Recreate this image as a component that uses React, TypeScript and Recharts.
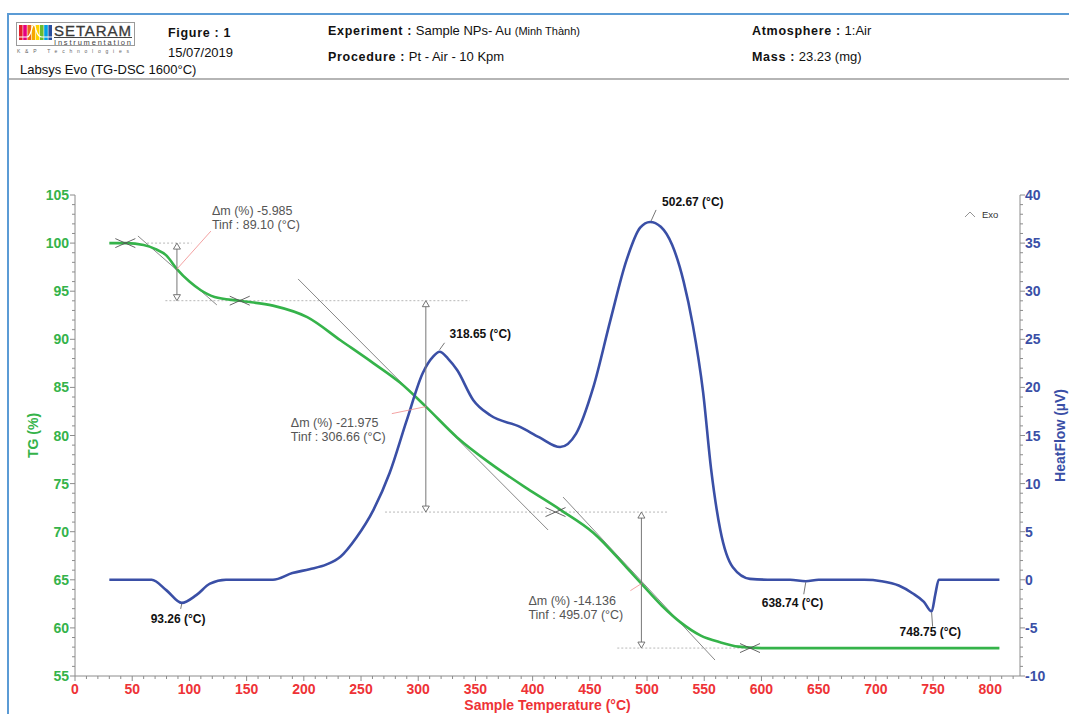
import React from "react";
import {
  ComposedChart,
  Line,
  XAxis,
  YAxis,
  ReferenceLine,
  ReferenceDot,
  Label,
} from "recharts";

const FONT = '"Liberation Sans", Arial, sans-serif';
const GREEN = "#35b34a";
const BLUE = "#3a4fa6";
const RED = "#ee3236";
const AXIS = "#8c8c8c";
const NOTE = "#555";

// TG (%) vs sample temperature (°C)
const tgTemp = [
  30, 45, 60, 70, 80, 89.1, 100, 110, 122, 144, 173, 203, 232, 261, 284, 306.66,
  334, 363, 395, 424, 453, 482, 495.07, 513, 529, 547, 564, 580, 600, 700, 808,
];
const tgValue = [
  100.0, 100.0, 99.8, 99.4, 98.7, 97.3, 96.0, 95.1, 94.4, 94.0, 93.5, 92.3, 89.9,
  87.5, 85.5, 83.0, 79.8, 77.1, 74.5, 72.3, 69.9, 66.3, 64.6, 62.3, 60.6, 59.2,
  58.5, 58.05, 57.9, 57.9, 57.9,
];

// HeatFlow (µV) vs sample temperature (°C)
const hfTemp = [
  30, 50, 67, 80, 93.26, 106, 118, 132, 150, 173, 190, 205, 220, 232, 246, 261,
  275, 290, 304, 313, 318.65, 326, 334, 348, 363, 389, 406, 424, 438, 453, 468,
  482, 494, 502.67, 512, 522, 532, 540, 549, 556, 564, 575, 590, 610, 625, 638.74,
  650, 670, 690, 705, 720, 732, 742, 748.75, 752, 755, 780, 808,
];
const hfValue = [
  0, 0, 0, -1.1, -2.4, -1.6, -0.4, 0, 0, 0, 0.7, 1.1, 1.6, 2.4, 4.4, 7.3, 11.1,
  16.6, 21.5, 23.2, 23.7, 23.0, 21.8, 18.7, 17.1, 15.9, 14.8, 13.8, 15.2, 20.0,
  27.0, 33.2, 36.6, 37.2, 36.7, 34.8, 31.0, 26.5, 19.5, 11.5, 5.2, 1.3, 0.1, 0, 0,
  -0.15, 0, 0, 0, -0.15, -0.6, -1.4, -2.3, -3.3, -1.5, 0, 0, 0,
];

// axis ticks
const xMajor = [0, 50, 100, 150, 200, 250, 300, 350, 400, 450, 500, 550, 600, 650, 700, 750, 800];
const tgMajor = [55, 60, 65, 70, 75, 80, 85, 90, 95, 100, 105];
const hfMajor = [-10, -5, 0, 5, 10, 15, 20, 25, 30, 35, 40];

// mass-loss steps
const tgStart = 100.0;
const stepDm = [-5.985, -21.975, -14.136];
const stepTinf = [89.1, 306.66, 495.07];
const stepTgAtTinf = [97.3, 83.0, 64.6];
// onset / endset crosses
const crossTemp = [44, 144, 420, 590];
// dotted step levels
const levelFrom = [63, 79, 271, 474];
const levelTo = [102, 345, 518, 600];
// tangents at the inflection points
const tanX1 = [55, 195, 426.6];
const tanY1 = [100.74, 96.27, 73.6];
const tanX2 = [124, 413.5, 559.4];
const tanY2 = [93.57, 70.18, 56.66];

// DSC peaks
const peakTemp = [93.26, 318.65, 502.67, 638.74, 748.75];
const peakHf = [-2.4, 23.7, 37.2, -0.15, -3.3];

const levels = stepDm.reduce<number[]>(
  (acc, dm) => [...acc, acc[acc.length - 1] + dm],
  [tgStart]
);

const tgData = tgTemp.map((t, i) => ({ t, tg: tgValue[i] }));
const hfData = hfTemp.map((t, i) => ({ t, hf: hfValue[i] }));

const range = (from: number, to: number, step: number) => {
  const out: number[] = [];
  for (let v = from; v <= to + 1e-9; v += step) out.push(Math.round(v * 100) / 100);
  return out;
};
const xTicks = range(0, 820, 10);
const tgTicks = range(55, 105, 1);
const hfTicks = range(-10, 40, 1);

const XTick = (props: any) => {
  const { x, y, payload } = props;
  const major = xMajor.includes(payload.value);
  return (
    <g>
      <line x1={x} y1={y} x2={x} y2={y + (major ? 5 : 3)} stroke={AXIS} />
      {major && (
        <text x={x} y={y + 18} textAnchor="middle" fill={RED} fontSize={14} fontWeight="bold" fontFamily={FONT}>
          {payload.value}
        </text>
      )}
    </g>
  );
};

const TgTick = (props: any) => {
  const { x, y, payload } = props;
  const major = tgMajor.includes(payload.value);
  return (
    <g>
      <line x1={x} y1={y} x2={x - (major ? 5 : 3)} y2={y} stroke={AXIS} />
      {major && (
        <text x={x - 6} y={y + 5} textAnchor="end" fill={GREEN} fontSize={14} fontWeight="bold" fontFamily={FONT}>
          {payload.value}
        </text>
      )}
    </g>
  );
};

const HfTick = (props: any) => {
  const { x, y, payload } = props;
  const major = hfMajor.includes(payload.value);
  return (
    <g>
      <line x1={x} y1={y} x2={x + (major ? 5 : 3)} y2={y} stroke={AXIS} />
      {major && (
        <text x={x + 5} y={y + 5} textAnchor="start" fill={BLUE} fontSize={14} fontWeight="bold" fontFamily={FONT}>
          {payload.value}
        </text>
      )}
    </g>
  );
};

// vertical Δm arrow with open heads at both ends
const DoubleArrow = (props: any) => {
  const { x1, y1, x2, y2 } = props;
  const top = Math.min(y1, y2);
  const bot = Math.max(y1, y2);
  const x = x1 ?? x2;
  return (
    <g>
      <line x1={x} y1={top + 6} x2={x} y2={bot - 6} stroke="#777" strokeWidth={1} />
      <path d={`M${x},${top} L${x - 3.5},${top + 6} L${x + 3.5},${top + 6} Z`} fill="#fff" stroke="#666" strokeWidth={0.9} />
      <path d={`M${x},${bot} L${x - 3.5},${bot - 6} L${x + 3.5},${bot - 6} Z`} fill="#fff" stroke="#666" strokeWidth={0.9} />
    </g>
  );
};

const Cross = (props: any) => {
  const { cx, cy } = props;
  return (
    <g stroke="#555" strokeWidth={0.9}>
      <line x1={cx - 10} y1={cy - 4.5} x2={cx + 10} y2={cy + 4.5} />
      <line x1={cx - 10} y1={cy + 4.5} x2={cx + 10} y2={cy - 4.5} />
    </g>
  );
};

// offsets of the step notes from their inflection point
const stepNoteLayout = [
  { lx: 34, ly: -38, tx: 35, ty: -59 },
  { lx: -34, ly: 7, tx: -135, ty: 16 },
  { lx: -11, ly: 7, tx: -113, ty: 17 },
];

const makeStepNote = (i: number) => (props: any) => {
  const { cx, cy } = props;
  const l = stepNoteLayout[i];
  return (
    <g fontFamily={FONT} fontSize={12.5} fill={NOTE}>
      <line x1={cx} y1={cy} x2={cx + l.lx} y2={cy + l.ly} stroke="#f08a8a" strokeWidth={0.8} />
      <text x={cx + l.tx} y={cy + l.ty + 4.5}>{`Δm (%) ${stepDm[i]}`}</text>
      <text x={cx + l.tx} y={cy + l.ty + 18.5}>{`Tinf : ${stepTinf[i].toFixed(2)} (°C)`}</text>
    </g>
  );
};

// leader and label offsets for each DSC peak
const peakNoteLayout = [
  { ax: 0, ay: 1, bx: -1, by: 6, tx: -31, ty: 16 },
  { ax: 0, ay: -2, bx: 5, by: -9, tx: 10, ty: -18 },
  { ax: 1, ay: -1, bx: 6, by: -12, tx: 12, ty: -20 },
  { ax: 0, ay: 1, bx: -2, by: 13, tx: -44, ty: 21 },
  { ax: 0, ay: 1, bx: 1, by: 15, tx: -32, ty: 20 },
];

const makePeakNote = (i: number) => (props: any) => {
  const { cx, cy } = props;
  const l = peakNoteLayout[i];
  return (
    <g>
      <line x1={cx + l.ax} y1={cy + l.ay} x2={cx + l.bx} y2={cy + l.by} stroke="#666" strokeWidth={0.9} />
      <text x={cx + l.tx} y={cy + l.ty + 4.5} fontFamily={FONT} fontSize={12} fontWeight="bold" fill="#111">
        {`${peakTemp[i].toFixed(2)} (°C)`}
      </text>
    </g>
  );
};

const Logo = () => {
  const bars = ["#e5202a", "#e6007e", "#ec6a1c", "#f5a800", "#ffd400", "#6cbb2d", "#00a0e3", "#2b4f9e"];
  return (
    <svg width={120} height={34} style={{ position: "absolute", left: 16, top: 22 }}>
      <rect x={0.5} y={0.5} width={118} height={23} fill="#fff" stroke="#9a9a9a" />
      {bars.map((c, i) => (
        <rect key={i} x={3 + i * 4.2} y={3} width={3.6} height={15} fill={c} />
      ))}
      <path d="M3,15 L11,15 Q14,15 16,6 Q18,-1 20,8 Q22,15 26,15 L37,15" fill="none" stroke="#fff" strokeWidth={1.2} />
      <text x={38} y={13.5} fontFamily={FONT} fontSize={15} fill="#3a3a3a" stroke="#3a3a3a" strokeWidth={0.3} textLength={77}>
        SETARAM
      </text>
      <line x1={38} y1={15.5} x2={116} y2={15.5} stroke="#444" strokeWidth={1} />
      <text x={38} y={22.5} fontFamily={FONT} fontSize={7.5} fill="#444" textLength={77}>
        Instrumentation
      </text>
      <text x={1} y={31} fontFamily={FONT} fontSize={5} fill="#666" textLength={112}>
        K&amp;P Technologies
      </text>
    </svg>
  );
};

const Header = () => {
  const lbl: React.CSSProperties = { fontWeight: "bold", letterSpacing: 0.7, fontSize: 12.5 };
  const txt: React.CSSProperties = { position: "absolute", fontSize: 13, color: "#111", whiteSpace: "nowrap", lineHeight: "16px" };
  return (
    <>
      <div style={{ position: "absolute", left: 7, top: 13, width: 2, height: 701, background: "#5b9bd5" }} />
      <div style={{ position: "absolute", left: 7, top: 13, width: 1062, height: 2, background: "#5b9bd5" }} />
      <div style={{ position: "absolute", left: 9, top: 78, width: 1060, height: 2, background: "#b5b5b5" }} />
      <Logo />
      <div style={{ ...txt, left: 168, top: 25 }}>
        <span style={lbl}>Figure : 1</span>
      </div>
      <div style={{ ...txt, left: 168, top: 45 }}>15/07/2019</div>
      <div style={{ ...txt, left: 20, top: 62 }}>Labsys Evo (TG-DSC 1600°C)</div>
      <div style={{ ...txt, left: 328, top: 23 }}>
        <span style={lbl}>Experiment :</span> Sample NPs- Au <span style={{ fontSize: 11 }}>(Minh Thành)</span>
      </div>
      <div style={{ ...txt, left: 328, top: 49 }}>
        <span style={lbl}>Procedure :</span> Pt - Air - 10 Kpm
      </div>
      <div style={{ ...txt, left: 752, top: 23 }}>
        <span style={lbl}>Atmosphere :</span> 1:Air
      </div>
      <div style={{ ...txt, left: 752, top: 49 }}>
        <span style={lbl}>Mass :</span> 23.23 (mg)
      </div>
      <div style={{ position: "absolute", left: 964, top: 209, fontFamily: FONT, fontSize: 9.5, color: "#333" }}>
        <svg width={12} height={8} style={{ marginRight: 6 }}>
          <path d="M1,7 L6,2 L11,7" fill="none" stroke="#888" strokeWidth={0.9} />
        </svg>
        Exo
      </div>
    </>
  );
};

export default function App() {
  return (
    <div
      style={{
        position: "absolute",
        left: 0,
        top: 0,
        width: 1069,
        height: 714,
        background: "#fff",
        fontFamily: FONT,
        overflow: "hidden",
      }}
    >
      <Header />
      <div style={{ position: "absolute", left: 0, top: 0 }}>
        <ComposedChart width={1069} height={714} margin={{ top: 195, right: 4, bottom: 0, left: 15 }}>
          <XAxis
            xAxisId="t"
            type="number"
            dataKey="t"
            domain={[0, 826]}
            ticks={xTicks}
            interval={0}
            allowDataOverflow
            height={38}
            tickSize={0}
            tickMargin={0}
            tickLine={false}
            axisLine={{ stroke: AXIS }}
            tick={<XTick />}
          >
            <Label
              content={(p: any) => {
                const vb = p.viewBox || { x: 75, y: 676, width: 945, height: 38 };
                return (
                  <text x={vb.x + vb.width / 2} y={vb.y + 34} textAnchor="middle" fill={RED} fontSize={14} fontWeight="bold" fontFamily={FONT}>
                    Sample Temperature (°C)
                  </text>
                );
              }}
            />
          </XAxis>
          <YAxis
            yAxisId="tg"
            orientation="left"
            domain={[55, 105]}
            ticks={tgTicks}
            interval={0}
            allowDataOverflow
            width={60}
            tickSize={0}
            tickMargin={0}
            tickLine={false}
            axisLine={{ stroke: AXIS }}
            tick={<TgTick />}
          >
            <Label
              content={(p: any) => {
                const vb = p.viewBox || { x: 15, y: 195, width: 60, height: 481 };
                const cx = vb.x + 18;
                const cy = vb.y + vb.height / 2;
                return (
                  <text x={cx} y={cy} transform={`rotate(-90 ${cx} ${cy})`} textAnchor="middle" dominantBaseline="central" fill={GREEN} fontSize={14} fontWeight="bold" fontFamily={FONT}>
                    TG (%)
                  </text>
                );
              }}
            />
          </YAxis>
          <YAxis
            yAxisId="hf"
            orientation="right"
            domain={[-10, 40]}
            ticks={hfTicks}
            interval={0}
            allowDataOverflow
            width={45}
            tickSize={0}
            tickMargin={0}
            tickLine={false}
            axisLine={{ stroke: AXIS }}
            tick={<HfTick />}
          >
            <Label
              content={(p: any) => {
                const vb = p.viewBox || { x: 1020, y: 195, width: 45, height: 481 };
                const cx = vb.x + 40;
                const cy = vb.y + vb.height / 2;
                return (
                  <text x={cx} y={cy} transform={`rotate(-90 ${cx} ${cy})`} textAnchor="middle" dominantBaseline="central" fill={BLUE} fontSize={14} fontWeight="bold" fontFamily={FONT}>
                    HeatFlow (µV)
                  </text>
                );
              }}
            />
          </YAxis>

          {levels.map((lv, i) => (
            <ReferenceLine
              key={`lv${i}`}
              xAxisId="t"
              yAxisId="tg"
              segment={[
                { x: levelFrom[i], y: lv },
                { x: levelTo[i], y: lv },
              ]}
              stroke="#b0b0b0"
              strokeWidth={0.9}
              strokeDasharray="2 2"
            />
          ))}
          {tanX1.map((x, i) => (
            <ReferenceLine
              key={`tan${i}`}
              xAxisId="t"
              yAxisId="tg"
              segment={[
                { x, y: tanY1[i] },
                { x: tanX2[i], y: tanY2[i] },
              ]}
              stroke="#6a6a6a"
              strokeWidth={0.8}
            />
          ))}

          <Line
            xAxisId="t"
            yAxisId="tg"
            data={tgData}
            dataKey="tg"
            type="monotone"
            stroke={GREEN}
            strokeWidth={2.6}
            dot={false}
            activeDot={false}
            isAnimationActive={false}
          />
          <Line
            xAxisId="t"
            yAxisId="hf"
            data={hfData}
            dataKey="hf"
            type="monotone"
            stroke={BLUE}
            strokeWidth={2.6}
            dot={false}
            activeDot={false}
            isAnimationActive={false}
          />

          {stepTinf.map((t, i) => (
            <ReferenceLine
              key={`arr${i}`}
              xAxisId="t"
              yAxisId="tg"
              segment={[
                { x: t, y: levels[i] },
                { x: t, y: levels[i + 1] },
              ]}
              shape={<DoubleArrow />}
            />
          ))}
          {crossTemp.map((t, i) => (
            <ReferenceDot key={`x${i}`} xAxisId="t" yAxisId="tg" x={t} y={levels[i]} shape={<Cross />} />
          ))}
          {stepTinf.map((t, i) => (
            <ReferenceDot key={`sn${i}`} xAxisId="t" yAxisId="tg" x={t} y={stepTgAtTinf[i]} shape={makeStepNote(i)} />
          ))}
          {peakTemp.map((t, i) => (
            <ReferenceDot key={`pk${i}`} xAxisId="t" yAxisId="hf" x={t} y={peakHf[i]} shape={makePeakNote(i)} />
          ))}
        </ComposedChart>
      </div>
    </div>
  );
}
